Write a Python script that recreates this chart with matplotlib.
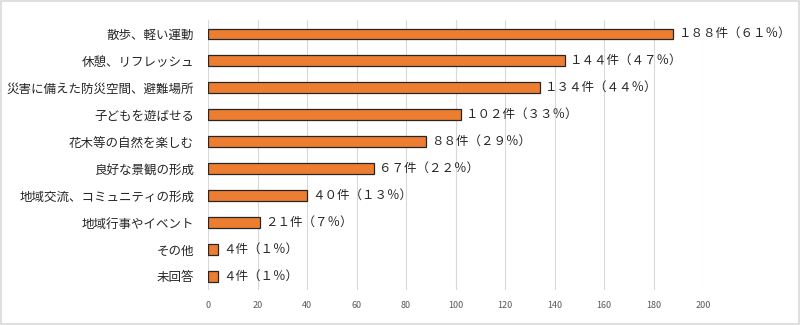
import matplotlib
matplotlib.use("Agg")
import matplotlib.pyplot as plt
from matplotlib.patches import Rectangle

plt.rcParams['font.family'] = ['Noto Sans CJK JP', 'DejaVu Sans']

categories = ["散歩、軽い運動", "休憩、リフレッシュ", "災害に備えた防災空間、避難場所",
              "子どもを遊ばせる", "花木等の自然を楽しむ", "良好な景観の形成",
              "地域交流、コミュニティの形成", "地域行事やイベント", "その他", "未回答"]
counts = [188, 144, 134, 102, 88, 67, 40, 21, 4, 4]
value_labels = ["１８８件（６１％）", "１４４件（４７％）", "１３４件（４４％）", "１０２件（３３％）",
                "８８件（２９％）", "６７件（２２％）", "４０件（１３％）", "２１件（７％）",
                "４件（１％）", "４件（１％）"]
xticks = [0, 20, 40, 60, 80, 100, 120, 140, 160, 180, 200]

fig = plt.figure(figsize=(8, 3.25), dpi=100)
ax = fig.add_axes([0.26, 0.108, 0.619, 0.83])

y = list(range(len(categories)))
ax.barh(y, counts, height=0.38, color="#ED7D31", edgecolor="#262626", linewidth=0.9, zorder=3)
for yi, c, lab in zip(y, counts, value_labels):
    ax.annotate(lab, (c, yi), xytext=(4, 0), textcoords="offset points",
                va="center", ha="left", fontsize=9, color="#262626")

ax.set_xlim(0, 200)
ax.set_ylim(len(categories) - 0.5, -0.5)
ax.set_yticks(y)
ax.set_yticklabels(categories, fontsize=9, color="#262626")
ax.set_xticks(xticks)
ax.set_xticklabels([str(t) for t in xticks], fontsize=6.5, color="#595959")
ax.tick_params(axis='both', length=0)
ax.tick_params(axis='y', pad=10)
ax.tick_params(axis='x', pad=8)
ax.grid(axis='x', color="#D9D9D9", linewidth=0.8, zorder=0)
for s in ax.spines.values():
    s.set_visible(False)

fig.patches.append(Rectangle((0.001, 0.002), 0.998, 0.995, transform=fig.transFigure,
                             fill=False, edgecolor="#D9D9D9", linewidth=1.2))

fig.savefig("out.png", dpi=100, facecolor="white")
